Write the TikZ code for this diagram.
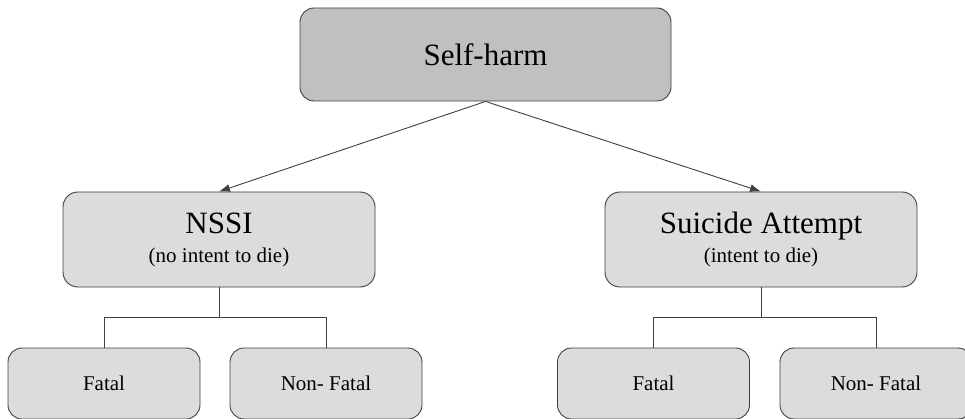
\documentclass[tikz,border=0pt]{standalone}
\usepackage{fontspec}
\setmainfont{Liberation Serif}
\usepackage{tikz}
\usetikzlibrary{arrows.meta}
\usetikzlibrary{calc}

\definecolor{topgray}{RGB}{192,192,192}
\definecolor{boxgray}{RGB}{220,220,220}
\definecolor{linegray}{RGB}{64,64,64}

\newcommand{\bigtxt}{\fontsize{31}{36}\selectfont}
\newcommand{\smalltxt}{\fontsize{21}{29}\selectfont}

\tikzset{
  topbox/.style={draw=linegray, fill=topgray, rounded corners=14pt, line width=0.9pt,
    minimum width=371pt, minimum height=93pt, inner sep=0pt, font=\bigtxt},
  midbox/.style={draw=linegray, fill=boxgray, rounded corners=15pt, line width=0.9pt,
    minimum width=312pt, minimum height=95pt, inner sep=0pt, align=center,
    font=\smalltxt},
  leafbox/.style={draw=linegray, fill=boxgray, rounded corners=14pt, line width=0.9pt,
    minimum width=192pt, minimum height=71pt, inner sep=0pt, font=\smalltxt},
  link/.style={draw=linegray, line width=0.9pt},
  tip/.style={-{Latex[length=11pt,width=8pt]}}
}

\begin{document}
\begin{tikzpicture}[x=1pt, y=-1pt]
  % Page frame, same size as the reference
  \useasboundingbox (0,0) rectangle (965,419);

  % Top of the tree
  \node[topbox] (selfharm) at (485.5,54.5) {Self-harm};

  % The two kinds of self-harm
  \node[midbox] (nssi) at (219,239.5)
    {{\bigtxt NSSI}\\(no intent to die)};
  \node[midbox] (attempt) at (761,239.5)
    {{\bigtxt Suicide Attempt}\\(intent to die)};

  % Outcomes
  \node[leafbox] (nssifatal) at (104,383.5) {Fatal};
  \node[leafbox] (nssinonfatal) at (326,383.5) {Non- Fatal};
  \node[leafbox] (attfatal) at (653.5,383.5) {Fatal};
  \node[leafbox] (attnonfatal) at (876,383.5) {Non- Fatal};

  % Arrows from the top box
  \draw[link, tip] (selfharm.south) -- (nssi.north);
  \draw[link, tip] (selfharm.south) -- (attempt.north);

  % Branches down to the outcomes
  \draw[link] (nssi.south) -- ++(0,30) coordinate (nssibar);
  \draw[link] (nssifatal.north) |- (nssibar) -| (nssinonfatal.north);
  \draw[link] (attempt.south) -- ++(0,30) coordinate (attbar);
  \draw[link] (attfatal.north) |- (attbar) -| (attnonfatal.north);
\end{tikzpicture}
\end{document}
